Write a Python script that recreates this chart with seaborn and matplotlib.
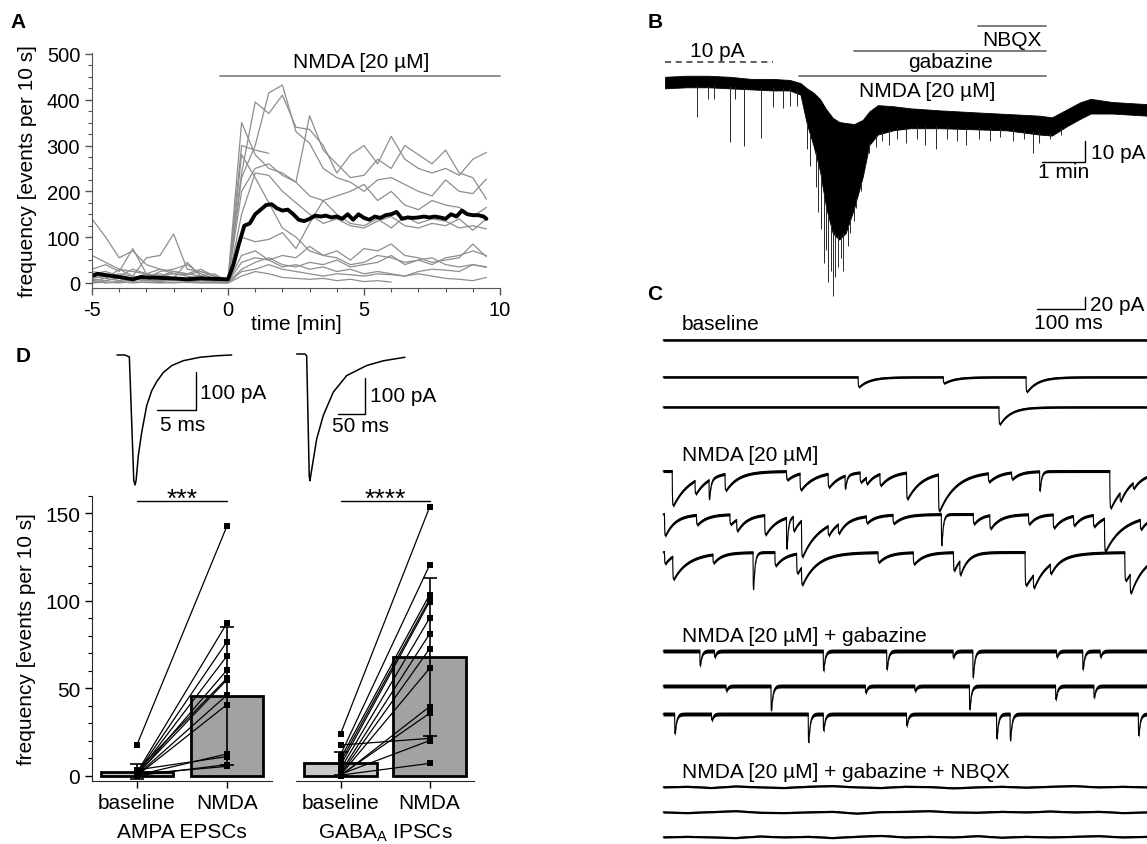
import numpy as np
import pandas as pd
import matplotlib
matplotlib.use('Agg')
import matplotlib.pyplot as plt
import seaborn as sns

# ---------------- panel A: event frequency time course ----------------
a_time = [-5, -4.5, -4, -3.5, -3, -2.5, -2, -1.5, -1, -0.5,
          0, 0.5, 1, 1.5, 2, 2.5, 3, 3.5, 4, 4.5,
          5, 5.5, 6, 6.5, 7, 7.5, 8, 8.5, 9, 9.5]

cell_01 = [60, 45, 30, 25, 20, 15, 20, 18, 25, 15,
           5, 240, 395, 370, 410, 340, 335, 300, 240, 280,
           300, 260, 320, 270, 250, 240, 250, 235, 270, 285]
cell_02 = [140, 100, 55, 70, 40, 30, 25, 20, 15, 20,
           3, 230, 300, 415, 432, 330, 305, 250, 230, 220,
           200, 225, 230, 215, 200, 190, 225, 200, 195, 227]
cell_03 = [30, 40, 25, 75, 20, 30, 20, 15, 10, 12,
           8, 350, 280, 250, 240, 220, 365, 290, 260, 230,
           235, 270, 250, 300, 280, 260, 290, 240, 230, 183]
cell_04 = [8, 5, 12, 10, 6, 5, 8, 4, 6, 5,
           5, 300, 290, 283]
cell_05 = [20, 25, 15, 30, 20, 15, 25, 20, 30, 15,
           4, 200, 250, 260, 235, 220, 190, 180, 190, 200,
           215, 180, 200, 170, 160, 180, 170, 165, 145, 165]
cell_06 = [10, 15, 20, 15, 10, 25, 30, 40, 20, 10,
           2, 150, 240, 235, 200, 175, 150, 130, 140, 125,
           120, 135, 145, 125, 120, 130, 125, 140, 115, 140]
cell_07 = [5, 10, 30, 15, 55, 60, 107, 30, 25, 15,
           6, 100, 90, 95, 110, 75, 130, 180, 150, 130,
           125, 140, 120, 145, 130, 140, 135, 120, 125, 118]
cell_08 = [15, 10, 5, 10, 5, 15, 10, 5, 10, 8,
           3, 280, 230, 175, 120, 100, 70, 60, 55, 40,
           45, 60, 55, 45, 50, 40, 55, 60, 70, 60]
cell_09 = [0, 5, 10, 5, 15, 20, 10, 45, 15, 5,
           2, 45, 55, 50, 60, 55, 80, 60, 70, 50,
           75, 70, 85, 60, 55, 45, 50, 55, 85, 57]
cell_10 = [5, 0, 2, 8, 5, 3, 6, 4, 2, 3,
           1, 30, 45, 55, 40, 35, 45, 40, 50, 35,
           40, 45, 60, 40, 50, 55, 40, 35, 40, 34]
cell_11 = [0, 2, 0, 3, 1, 0, 2, 1, 0, 1,
           0, 25, 30, 40, 30, 25, 20, 15, 20, 18,
           15, 20, 18, 15, 20, 15, 10, 8, 5, 12]
cell_12 = [2, 1, 3, 0, 2, 1, 0, 2, 1, 0,
           0, 15, 25, 20, 12, 10, 8, 10, 5, 8,
           3, 5, 2]
cell_13 = [25, 20, 15, 10, 20, 12, 8, 10, 15, 6,
           2, 60, 70, 50, 35, 40, 30, 35, 25, 30,
           20, 25, 20, 15, 25, 30, 28, 25, 40, 35]

mean_time = [-5, -4.8, -4.5, -4, -3.5, -3.2, -3, -2.5, -2, -1.5, -1, -0.5,
             0, 0.2, 0.4, 0.6, 0.8, 1.0, 1.2, 1.4, 1.6, 1.8, 2.0, 2.2, 2.4,
             2.6, 2.8, 3.0, 3.2, 3.4, 3.6, 3.8, 4.0, 4.2, 4.4, 4.6, 4.8, 5.0,
             5.2, 5.4, 5.6, 5.8, 6.0, 6.2, 6.4, 6.6, 6.8, 7.0, 7.2, 7.4, 7.6,
             7.8, 8.0, 8.2, 8.4, 8.6, 8.8, 9.0, 9.2, 9.4, 9.5]
mean_freq = [15, 20, 17, 13, 8, 13, 12, 11, 10, 8, 10, 9,
             8, 40, 85, 125, 130, 150, 160, 170, 172, 163, 158, 160, 150,
             138, 135, 140, 147, 145, 147, 143, 145, 140, 150, 138, 150, 142,
             138, 145, 142, 148, 150, 155, 140, 143, 142, 143, 145, 143, 145,
             143, 140, 150, 145, 158, 150, 148, 148, 145, 140]

# ---------------- panel B: holding current (pA) over time (min) ----------------
b_time = [0, 0.5, 1.0, 1.5, 2.0, 2.5, 2.9, 3.15, 3.3, 3.45, 3.6, 3.75, 3.9,
          4.05, 4.2, 4.4, 4.6, 4.75, 4.95, 5.3, 5.7, 6.4, 7.2, 7.95, 8.7,
          9.0, 9.35, 9.65, 9.9, 10.4, 11.2]
b_upper = [2.5, 3, 3, 2.5, 1.5, 1.5, 1, -0.5, -3, -5, -8, -13, -17,
           -19, -19.5, -20, -18, -14, -11, -11.5, -12.5, -13.5, -14.4, -15.2, -16,
           -16.8, -13, -9.7, -8, -9.5, -10.5]
b_lower = [-3, -2.5, -2.5, -3, -3.5, -4, -4, -6, -20, -30, -42, -60, -72,
           -75, -72, -60, -45, -30, -25, -23, -22, -22, -22.5, -23, -25,
           -25.5, -21, -17.6, -15, -15, -16]
b_spike_t = [0.75, 1.0, 1.13, 1.5, 1.63, 1.84, 2.23, 2.52, 2.75, 2.9, 3.07,
             3.3, 3.38, 3.5, 3.55, 3.62, 3.7, 3.75, 3.8, 3.86, 3.9, 3.95, 4.02,
             4.1, 4.15, 4.25, 4.3, 4.4, 4.45, 4.55, 4.65, 4.75,
             4.9, 5.05, 5.2, 5.4, 5.6, 5.85, 6.05, 6.3, 6.55, 6.8, 7.0, 7.3,
             7.55, 7.8, 8.1, 8.35, 8.55, 8.7, 8.95, 9.2]
b_spike_tip = [-16.8, -8, -8, -28.4, -8, -30.3, -26.8, -12, -12.5, -11.5, -11.5,
               -32, -40, -50, -62, -70, -86, -80, -95, -90, -102, -93, -88,
               -84, -90, -78, -72, -66, -60, -52, -40, -34,
               -31, -28, -30, -27, -29, -27, -30, -32, -27, -28, -30, -27,
               -28, -26, -28, -27, -34, -29, -27, -25]

# ---------------- panel C: example traces, events as (ms, pA, decay ms) ----------------
base_trace1 = []
base_trace2 = [(403, 16, 22), (579, 10, 22), (750, 24, 22)]
base_trace3 = [(694, 28, 22)]
nmda_trace1 = [(19, 56, 35), (66, 22, 25), (95, 32, 3), (128, 27, 25), (255, 14, 20),
               (283, 27, 30), (341, 22, 25), (376, 22, 3), (407, 16, 20), (420, 11, 15),
               (448, 19, 25), (503, 43, 30), (569, 60, 35), (672, 14, 20), (720, 11, 15),
               (778, 32, 3), (923, 60, 35), (944, 15, 15), (971, 10, 15)]
nmda_trace2 = [(3, 35, 20), (69, 16, 20), (138, 16, 20), (152, 19, 20), (210, 32, 25),
               (255, 51, 3), (269, 24, 15), (286, 60, 45), (341, 16, 15), (362, 16, 15),
               (420, 11, 15), (475, 14, 20), (575, 51, 3), (641, 16, 15), (675, 22, 20),
               (755, 16, 15), (806, 22, 20), (848, 16, 15), (889, 19, 20), (912, 54, 40),
               (986, 16, 15)]
nmda_trace3 = [(3, 19, 15), (20, 38, 35), (103, 14, 15), (186, 60, 3), (231, 22, 20),
               (276, 32, 25), (286, 30, 35), (444, 16, 20), (517, 19, 20), (600, 30, 15),
               (613, 24, 15), (748, 54, 40), (765, 22, 20), (800, 16, 15), (954, 46, 35),
               (965, 32, 25)]
gbz_trace1 = [(76, 24, 3), (106, 10, 3), (331, 32, 3), (462, 30, 3), (599, 11, 3),
              (640, 43, 3), (813, 10, 3), (867, 30, 3), (903, 10, 3)]
gbz_trace2 = [(130, 8, 3), (223, 40, 3), (418, 11, 3), (520, 8, 3), (633, 38, 3),
              (811, 22, 3), (890, 19, 3)]
gbz_trace3 = [(24, 32, 3), (100, 10, 3), (300, 46, 3), (331, 27, 3), (503, 19, 3),
              (689, 40, 3), (717, 43, 3), (982, 35, 3)]
nbqx_time = [0, 50, 100, 150, 200, 250, 300, 350, 400, 450, 500,
             550, 600, 650, 700, 750, 800, 850, 900, 950, 1000]
nbqx_trace1 = [0, 1, -1, 1.5, 0, -1, 1, 2, 0, -1, 1, 0.5, -1.5, 0, 1, -0.5, 1, 2, 0, 1, 0]
nbqx_trace2 = [0, -1, 0.5, 2, -0.5, -1, 0, 1, -2, 0.5, 1, 2, 0, -0.5, 1, 0, 1.5, 0, 1, -1, 0]
nbqx_trace3 = [0, 1, 0, -1, 1.5, 0, 1, -1, 1, 2.5, 0, 1, 0, 2, -0.5, 1, 0, 1, 2, 0, 1]

# ---------------- panel D: average events and paired frequencies ----------------
epsc_time = [0, 1.0, 1.58, 2.15, 2.31, 2.45, 2.73, 3.17, 3.81, 4.45, 5.09,
             5.94, 7.01, 8.5, 10.64, 12.78, 14.7]
epsc_amp = [0, 0, -5, -330, -342, -330, -265, -203, -133, -94, -70,
            -46, -28, -15, -6, -2, 0]
ipsc_time = [0, 15, 18.3, 23, 24.3, 26, 36.6, 48.6, 66.9, 91.4, 128, 158, 198]
ipsc_amp = [0, 0, -5, -340, -352, -335, -236, -171, -106, -60, -32, -19, -9]

conditions = ['baseline', 'NMDA']
ampa_base = [17.9, 2.0, 1.5, 1.0, 0.5, 3.0, 1.0, 0.5, 0.2, 0.5, 3.5, 0.2, 1.0]
ampa_nmda = [142.9, 87.4, 76.8, 68.6, 60.6, 55.9, 55.0, 46.3, 40.8, 12.6, 11.1, 6.5, 5.5]
ampa_mean = [2.5, 45.7]
ampa_sd = [4.2, 39.5]
gaba_base = [24.0, 12.0, 10.0, 8.0, 6.0, 4.0, 2.0, 1.0, 0.5, 0.0, 0.5, 17.7, 1.0, 0.5]
gaba_nmda = [153.5, 120.4, 103.5, 101.0, 99.6, 90.1, 81.1, 72.6, 61.5, 39.6, 35.8,
             21.5, 20.2, 7.2]
gaba_mean = [7.2, 68.0]
gaba_sd = [6.5, 45.0]

# ---------------- figure ----------------
sns.set_style('ticks')
plt.rcParams['font.family'] = ['Liberation Sans', 'DejaVu Sans']
plt.rcParams['mathtext.default'] = 'regular'
plt.rcParams['axes.unicode_minus'] = False
plt.rcParams['text.color'] = 'black'
plt.rcParams['axes.labelcolor'] = 'black'

W, H = 1147, 845
fig = plt.figure(figsize=(W / 100, H / 100), dpi=100)
FS = 15


def px_rect(left, top, right, bottom):
    return [left / W, 1 - bottom / H, (right - left) / W, (bottom - top) / H]


def style_ticks(ax, size, color='black'):
    ax.tick_params(which='major', direction='out', length=5, width=1,
                   labelsize=size, colors=color, labelcolor='black')
    ax.tick_params(which='minor', direction='out', length=3, width=0.8, colors=color)


# panel letters
for letter, x, y in [('A', 18, 23), ('B', 655, 22), ('C', 655, 295), ('D', 23, 357)]:
    fig.text(x / W, 1 - y / H, letter, fontsize=15, fontweight='bold',
             ha='center', va='center')

# ---- A ----
ax_a = fig.add_axes(px_rect(92, 54, 500, 289))
rows = []
for i, vals in enumerate([cell_01, cell_02, cell_03, cell_04, cell_05, cell_06, cell_07,
                          cell_08, cell_09, cell_10, cell_11, cell_12, cell_13]):
    for t, v in zip(a_time, vals):
        rows.append((i, t, v))
df_a = pd.DataFrame(rows, columns=['cell', 'time', 'freq'])
sns.lineplot(data=df_a, x='time', y='freq', units='cell', estimator=None,
             color='#8e8e8e', lw=0.9, ax=ax_a)
sns.lineplot(x=mean_time, y=mean_freq, color='black', lw=2.8, ax=ax_a)
ax_a.set_xlim(-5, 10)
ax_a.set_ylim(-11, 502)
ax_a.set_xticks([-5, 0, 5, 10])
ax_a.set_xticks(np.arange(-5, 10, 1), minor=True)
ax_a.set_yticks([0, 100, 200, 300, 400, 500])
ax_a.set_yticks(np.arange(0, 501, 25), minor=True)
style_ticks(ax_a, 14.5, '#555555')
for s in ['top', 'right']:
    ax_a.spines[s].set_visible(False)
for s in ['left', 'bottom']:
    ax_a.spines[s].set_color('#555555')
ax_a.set_xlabel('time [min]', fontsize=FS)
ax_a.set_ylabel('frequency [events per 10 s]', fontsize=FS)
ax_a.xaxis.set_label_coords(0.5, -0.11)
ax_a.yaxis.set_label_coords(-0.135, 0.5)
ax_a.plot([-0.3, 10], [452, 452], color='#7a7a7a', lw=1.2, clip_on=False)
ax_a.text(4.9, 471, 'NMDA [20 µM]', fontsize=FS, ha='center', va='baseline')

# ---- B ----
ax_b = fig.add_axes(px_rect(655, 15, 1147, 305))
ax_b.set_xlim(-0.233, 11.21)
ax_b.set_ylim(-105.7, 32.4)
ax_b.axis('off')
ax_b.fill_between(b_time, b_lower, b_upper, color='black', lw=0.6)
spike_top = np.interp(b_spike_t, b_time, b_lower) + 1
ax_b.vlines(b_spike_t, b_spike_tip, spike_top, color='#2a2a2a', lw=0.7)
ax_b.plot([0, 2.51], [9.5, 9.5], color='#333333', lw=1.1, ls=(0, (4, 3)))
ax_b.text(1.21, 12.2, '10 pA', fontsize=FS, ha='center', va='baseline')
ax_b.plot([3.12, 8.86], [2.9, 2.9], color='#666666', lw=1.2)
ax_b.text(6.09, -6.5, 'NMDA [20 µM]', fontsize=FS, ha='center', va='baseline')
ax_b.plot([4.4, 8.86], [14.8, 14.8], color='#666666', lw=1.2)
ax_b.text(6.63, 7.0, 'gabazine', fontsize=FS, ha='center', va='baseline')
ax_b.plot([7.28, 8.86], [26.7, 26.7], color='#666666', lw=1.2)
ax_b.text(8.07, 17.6, 'NBQX', fontsize=FS, ha='center', va='baseline')
ax_b.plot([8.77, 9.77, 9.77], [-38.1, -38.1, -28.1], color='black', lw=1)
ax_b.text(9.9, -36.3, '10 pA', fontsize=FS, ha='left', va='baseline')
ax_b.text(9.27, -45.4, '1 min', fontsize=FS, ha='center', va='baseline')

# ---- C ----
ax_c = fig.add_axes(px_rect(655, 285, 1147, 845))
ax_c.set_xlim(-16.5, 1000)
ax_c.set_ylim(-907.6, 0)
ax_c.axis('off')

t_grid = np.arange(0, 1000.25, 0.25)


def render(events):
    y = np.zeros_like(t_grid)
    for t0, amp, tau in events:
        dt = t_grid - t0
        on = dt >= 0
        shape = (1 - np.exp(-dt[on] / 0.5)) * np.exp(-dt[on] / tau)
        y[on] -= amp * shape / shape.max()
    return y


event_rows = [(base_trace1, -90.8, 2.0), (base_trace2, -150.7, 2.0), (base_trace3, -199.4, 2.0),
              (nmda_trace1, -303.1, 2.5), (nmda_trace2, -372.8, 2.5), (nmda_trace3, -434.4, 2.5),
              (gbz_trace1, -594.8, 3.2), (gbz_trace2, -651.5, 3.2), (gbz_trace3, -696.9, 3.2)]
for events, offset, noise in event_rows:
    y = offset + render(events)
    ax_c.fill_between(t_grid, y - noise, y + noise, color='black', lw=0)
    ax_c.plot(t_grid, y, color='black', lw=0.8)
for trace, offset in [(nbqx_trace1, -815.2), (nbqx_trace2, -855.8), (nbqx_trace3, -896.3)]:
    y = offset + np.array(trace)
    ax_c.fill_between(nbqx_time, y - 1.8, y + 1.8, color='black', lw=0)
    ax_c.plot(nbqx_time, y, color='black', lw=0.8)

ax_c.plot([772.7, 871.9, 871.9], [-40.5, -40.5, -20.5], color='black', lw=1)
ax_c.text(882, -41.6, '20 pA', fontsize=FS, ha='left', va='baseline')
ax_c.text(837, -71.9, '100 ms', fontsize=FS, ha='center', va='baseline')
ax_c.text(39, -72.9, 'baseline', fontsize=FS, ha='left', va='baseline')
ax_c.text(39, -286, 'NMDA [20 µM]', fontsize=FS, ha='left', va='baseline')
ax_c.text(39, -578, 'NMDA [20 µM] + gabazine', fontsize=FS, ha='left', va='baseline')
ax_c.text(39, -799.6, 'NMDA [20 µM] + gabazine + NBQX', fontsize=FS, ha='left', va='baseline')

# ---- D insets ----
ax_e = fig.add_axes(px_rect(110, 345, 240, 495))
sns.lineplot(x=epsc_time, y=epsc_amp, color='black', lw=1.1, ax=ax_e)
ax_e.set_xlim(-0.9, 15.77)
ax_e.set_ylim(-365.8, 28.9)
ax_e.axis('off')
ax_e.plot([5.13, 10.13, 10.13], [-144.7, -144.7, -44.7], color='black', lw=1)
ax_e.text(10.6, -114, '100 pA', fontsize=FS, ha='left', va='baseline')
ax_e.text(5.5, -198, '5 ms', fontsize=FS, ha='left', va='baseline')

ax_i = fig.add_axes(px_rect(290, 345, 420, 495))
sns.lineplot(x=ipsc_time, y=ipsc_amp, color='black', lw=1.1, ax=ax_i)
ax_i.set_xlim(-12.2, 225.5)
ax_i.set_ylim(-388.9, 27.8)
ax_i.axis('off')
ax_i.plot([74.9, 124.9, 124.9], [-166.7, -166.7, -66.7], color='black', lw=1)
ax_i.text(134, -130, '100 pA', fontsize=FS, ha='left', va='baseline')
ax_i.text(65, -215, '50 ms', fontsize=FS, ha='left', va='baseline')

# ---- D bars ----
groups = [(px_rect(92, 497, 272, 782), ampa_base, ampa_nmda, ampa_mean, ampa_sd,
           'AMPA EPSCs', '***'),
          (px_rect(296, 497, 474, 782), gaba_base, gaba_nmda, gaba_mean, gaba_sd,
           'GABA$_\\mathregular{A}$ IPSCs', '****')]
for k, (rect, base, nmda, means, sds, title, stars) in enumerate(groups):
    ax = fig.add_axes(rect)
    sns.barplot(x=conditions, y=means, hue=conditions, palette=['#c8c8c8', '#a2a2a2'],
                width=0.81, edgecolor='black', linewidth=2, saturation=1,
                legend=False, ax=ax, zorder=1)
    ax.errorbar([0, 1], means, yerr=sds, fmt='none', ecolor='black', elinewidth=1.2,
                capsize=5, capthick=1.2, zorder=2)
    for b, n in zip(base, nmda):
        ax.plot([0, 1], [b, n], color='black', lw=0.9, zorder=3)
    pts = pd.DataFrame({'x': [0] * len(base) + [1] * len(nmda), 'y': base + nmda})
    sns.scatterplot(data=pts, x='x', y='y', marker='s', s=22, color='black',
                    edgecolor='black', linewidth=0, ax=ax, zorder=4)
    ax.set_xlim(-0.5, 1.5)
    ax.set_ylim(-2.86, 160)
    ax.set_xticks([0, 1])
    ax.set_xticklabels(conditions)
    ax.set_xlabel(title, fontsize=FS, labelpad=7)
    ax.set_ylabel('')
    ax.set_yticks([0, 50, 100, 150])
    ax.set_yticks(np.arange(0, 161, 10), minor=True)
    style_ticks(ax, FS)
    ax.tick_params(axis='x', which='minor', bottom=False)
    ax.spines['top'].set_visible(False)
    ax.spines['right'].set_visible(False)
    if k == 0:
        ax.set_ylabel('frequency [events per 10 s]', fontsize=FS)
        ax.yaxis.set_label_coords(-0.31, 0.5)
    else:
        ax.spines['left'].set_visible(False)
        ax.tick_params(axis='y', which='both', left=False, labelleft=False)
    ax.plot([0, 1], [157, 157], color='black', lw=1, clip_on=False)
    ax.text(0.5, 154.5, stars, fontsize=19, ha='center', va='baseline')

fig.savefig('out.png', dpi=100)
